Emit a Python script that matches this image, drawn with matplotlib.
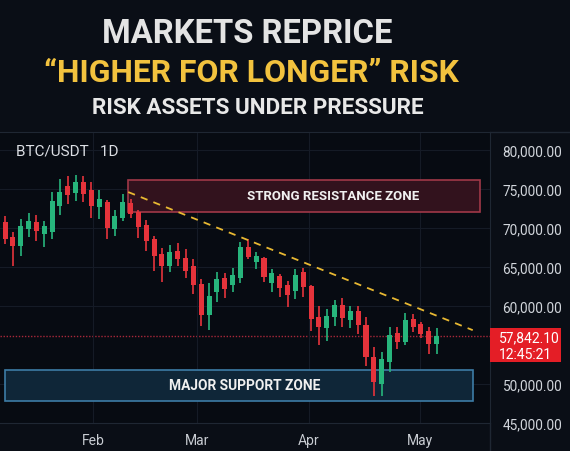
import numpy as np
import matplotlib
matplotlib.use('Agg')
import matplotlib.pyplot as plt
import matplotlib.transforms as mtransforms
from matplotlib import font_manager
from matplotlib.patches import Rectangle

# candle data (BTC/USDT daily)
opens = [70770, 68850, 67690, 69870, 70770, 69230, 69490, 72820, 75380, 74490,
         75900, 74870, 72690, 73330, 69870, 71280, 73200, 72050, 70380, 68590,
         66670, 65130, 67050, 66150, 65130, 62820, 58850, 61790, 63590, 62690,
         63590, 67560, 65640, 66150, 62950, 63850, 62690, 61920, 64360, 62560,
         58590, 57180, 58590, 60130, 58210, 59360, 57560, 53460, 50000, 52820,
         56540, 55380, 58330, 57690, 56790, 55130]
highs = [71540, 69490, 71150, 71920, 71670, 70900, 74610, 76280, 76670, 76790,
         76670, 75900, 74870, 73590, 72310, 74360, 73720, 72310, 71030, 68970,
         67440, 67820, 68080, 67310, 66030, 63460, 62950, 64360, 64230, 64870,
         68210, 68590, 66920, 66280, 64740, 64100, 63210, 64740, 64870, 62690,
         60000, 59620, 60770, 61030, 60000, 60000, 58590, 54740, 54150, 57310,
         57310, 59100, 58970, 57950, 57310, 57150]
lows = [67950, 65130, 66410, 68850, 68330, 67560, 68590, 71670, 73080, 73460,
        73330, 71280, 71150, 68590, 68970, 70900, 71280, 68720, 67050, 64490,
        63080, 64360, 65130, 63590, 61540, 57440, 56920, 60510, 61030, 61790,
        62950, 66030, 64740, 63080, 61790, 61150, 59870, 60900, 61150, 56800,
        55000, 55510, 57440, 57310, 57180, 56410, 52310, 48460, 48460, 51540,
        54490, 55000, 56670, 55900, 53850, 53850]
closes = [68590, 67690, 70250, 70900, 69610, 70250, 73460, 74610, 74230, 75900,
          74360, 72820, 73720, 70000, 71540, 73330, 71790, 70130, 68330, 66410,
          65130, 66920, 66030, 64490, 62690, 58850, 61280, 63460, 62180, 63970,
          67560, 66280, 66410, 63720, 64230, 62310, 61410, 63970, 62440, 58330,
          57310, 58720, 60130, 58460, 59360, 57560, 53460, 50260, 53210, 56280,
          55380, 58210, 57310, 56410, 55130, 56150]

month_labels = ['Feb', 'Mar', 'Apr', 'May']
month_pos = [11.2, 24.5, 38.7, 52.9]
price_ticks = [45000, 50000, 60000, 65000, 70000, 75000, 80000]

resistance_zone = (72050, 76150)
resistance_span = (15.7, 60.5)
support_zone = (47820, 51800)
support_span = (0.0, 59.6)
trend_x = [15.7, 59.6]
trend_y = [74600, 56900]

last_price_text = '57,842.10'
countdown_text = '12:45:21'

BG = '#0a0e16'
AX_BG = '#070b12'
RED = '#e5333b'
GREEN = '#27b57c'
GRID = '#151b26'

# no condensed faces installed; Roboto bold is the narrowest bold sans available
head_fp = font_manager.FontProperties(family='Roboto', weight='bold')

fig = plt.figure(figsize=(5.7, 4.52), dpi=100, facecolor=BG)


def fit(t, width_px, size):
    t.set_fontsize(size)
    r = fig.canvas.get_renderer()
    w = t.get_window_extent(renderer=r).width
    t.set_fontsize(size * width_px / w)


# titles
t1 = fig.text(247 / 570, 1 - 34 / 452, 'MARKETS REPRICE', color='#e4e4e4',
              fontproperties=head_fp, ha='center', va='center')
fit(t1, 290, 30)
t2 = fig.text(251 / 570, 1 - 73 / 452, '\u201cHIGHER FOR LONGER\u201d RISK', color='#f2c23e',
              fontproperties=head_fp, ha='center', va='center')
fit(t2, 415, 30)
t3 = fig.text(258 / 570, 1 - 108 / 452, 'RISK ASSETS UNDER PRESSURE', color='#e8e8e8',
              fontproperties=head_fp, ha='center', va='center')
fit(t3, 332, 20)

ax = fig.add_axes([0, 28 / 452, 490 / 570, 291 / 452])
ax.set_facecolor(AX_BG)
ax.set_xlim(-0.64, 61.8)
ax.set_ylim(45000, 82300)

x = np.arange(len(opens))
o = np.array(opens)
c = np.array(closes)
cols = [GREEN if cc >= oo else RED for oo, cc in zip(o, c)]
ax.vlines(x, lows, highs, colors=cols, lw=1.2, zorder=3)
ax.bar(x, np.abs(c - o), bottom=np.minimum(o, c), width=0.64, color=cols, zorder=4)

# zones
ax.add_patch(Rectangle((resistance_span[0], resistance_zone[0]),
                       resistance_span[1] - resistance_span[0],
                       resistance_zone[1] - resistance_zone[0],
                       facecolor='#32121d', edgecolor='#a03848', lw=1.2, zorder=2))
zr = ax.text(41.8, sum(resistance_zone) / 2, 'STRONG RESISTANCE ZONE', color='#f0f0f0',
             fontproperties=head_fp, ha='center', va='center', zorder=5)
fit(zr, 172, 12)
ax.add_patch(Rectangle((support_span[0], support_zone[0]),
                       support_span[1] - support_span[0],
                       support_zone[1] - support_zone[0],
                       facecolor='#0f2638', edgecolor='#3d7ca6', lw=1.2, zorder=2))
zs = ax.text(30.5, sum(support_zone) / 2, 'MAJOR SUPPORT ZONE', color='#f0f0f0',
             fontproperties=head_fp, ha='center', va='center', zorder=5)
fit(zs, 152, 12)

ax.plot(trend_x, trend_y, color='#e8b832', lw=1.3, ls=(0, (4, 3.5)), zorder=5)

# last price line + tag
last = closes[-1]
ax.axhline(last, color='#a8283a', lw=1, ls=(0, (1, 1.2)), zorder=1)
blend = mtransforms.blended_transform_factory(ax.transAxes, ax.transData)
ppx = (82300 - 45000) / 291
ax.add_patch(Rectangle((1.0, last - 26 * ppx), 71 / 490, 34 * ppx, transform=blend,
                       facecolor='#e41e26', edgecolor='none', clip_on=False, zorder=6))
ax.text(499 / 490, last - 1 * ppx, last_price_text, transform=blend, color='white',
        fontsize=10, family='Roboto', ha='left', va='center', zorder=7, clip_on=False)
ax.text(499 / 490, last - 18 * ppx, countdown_text, transform=blend, color='white',
        fontsize=10, family='Roboto', ha='left', va='center', zorder=7, clip_on=False)

# axes styling
ax.yaxis.tick_right()
ax.set_yticks(price_ticks)
ax.set_yticklabels([f'{t:,.2f}' for t in price_ticks], color='#d2d6dc', fontsize=9.8,
                   family='Roboto')
ax.set_xticks(month_pos)
ax.set_xticklabels(month_labels, color='#c8ccd2', fontsize=10, family='Roboto')
ax.tick_params(length=0)
ax.tick_params(axis='y', pad=9)
ax.tick_params(axis='x', pad=7)
ax.grid(color=GRID, lw=0.8, zorder=0)
ax.spines['left'].set_visible(False)
for s in ['top', 'right', 'bottom']:
    ax.spines[s].set_color('#1f2733')
ax.text(16 / 490, 1 - 19 / 291, 'BTC/USDT   1D', transform=ax.transAxes, color='#dcdfe4',
        fontsize=11, family='Roboto', ha='left', va='center')

fig.add_artist(plt.Line2D([490 / 570, 1], [1 - 133 / 452] * 2,
                          transform=fig.transFigure, color='#1f2733', lw=1))
fig.add_artist(plt.Line2D([490 / 570] * 2, [0, 28 / 452],
                          transform=fig.transFigure, color='#1f2733', lw=1))

fig.savefig('out.png', dpi=100, facecolor=BG)
